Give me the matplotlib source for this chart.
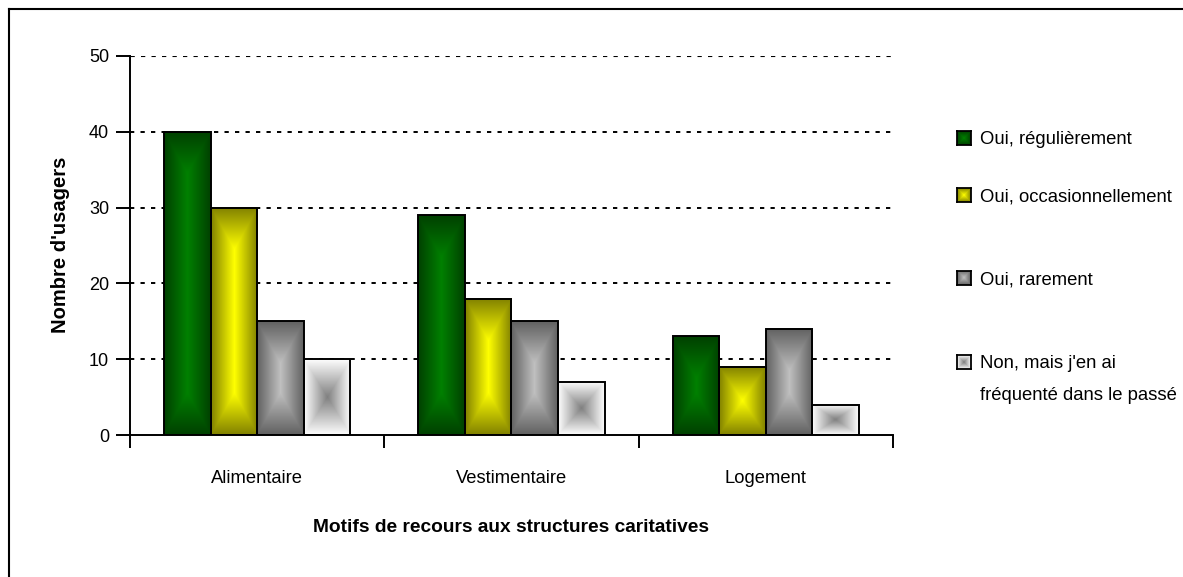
#!/usr/bin/env python3
"""Recours aux structures caritatives : barres groupées avec dégradés."""
import matplotlib
matplotlib.use("Agg")
import matplotlib.pyplot as plt
import matplotlib.colors as mcolors
import numpy as np
from matplotlib.lines import Line2D

CATEGORIES = ["Alimentaire", "Vestimentaire", "Logement"]
SERIES     = ["Oui, régulièrement", "Oui, occasionnellement", "Oui, rarement",
              "Non, mais j'en ai\nfréquenté dans le passé"]
REGULIER   = [40, 29, 13]
OCCASION   = [30, 18, 9]
RAREMENT   = [15, 15, 14]
PASSE      = [10, 7, 4]
Y_TICKS    = [0, 10, 20, 30, 40, 50]

# (centre, bord) du dégradé rectangulaire "depuis le centre"
GRADIENTS = [("#008000", "#004000"),
             ("#ffff00", "#808000"),
             ("#c0c0c0", "#606060"),
             ("#808080", "#ffffff")]

FONT = ["Liberation Sans", "DejaVu Sans"]
W, H = 1183, 577


def box_gradient(center: str, edge: str, wpx: int, hpx: int) -> np.ndarray:
    wpx, hpx = max(wpx, 2), max(hpx, 2)
    hw, hh = wpx / 2, hpx / 2
    k = min(hh, 1.8 * hw)                       # hauteur des triangles haut/bas
    xs = np.abs(np.arange(wpx) + 0.5 - hw) / hw
    ys = np.clip(np.abs(np.arange(hpx) + 0.5 - hh) - (hh - k), 0, None) / k
    dx, dy = np.meshgrid(xs, ys)
    t = np.clip(np.maximum(dx, dy), 0.0, 1.0)[..., None]
    c = np.array(mcolors.to_rgb(center))
    e = np.array(mcolors.to_rgb(edge))
    return c * (1 - t) + e * t


def main() -> None:
    plt.rcParams["font.family"] = FONT
    fig = plt.figure(figsize=(W / 100, H / 100), dpi=100)
    ax = fig.add_axes([130 / W, 1 - 435 / H, (893 - 130) / W, (435 - 56) / H])
    ax.set_xlim(-0.5, 2.5)
    ax.set_ylim(0, 50)

    x = np.arange(len(CATEGORIES))
    bw = 0.183
    offsets = (np.arange(4) - 1.5) * bw
    for i, vals in enumerate([REGULIER, OCCASION, RAREMENT, PASSE]):
        bars = ax.bar(x + offsets[i], vals, bw, facecolor="none",
                      edgecolor="black", linewidth=1.4, zorder=3)
        for rect in bars:
            x0, y0 = rect.get_x(), rect.get_y()
            x1, y1 = x0 + rect.get_width(), y0 + rect.get_height()
            (px0, py0), (px1, py1) = ax.transData.transform([(x0, y0), (x1, y1)])
            img = box_gradient(*GRADIENTS[i], int(round(px1 - px0)), int(round(py1 - py0)))
            ax.imshow(img, extent=[x0, x1, y0, y1], aspect="auto",
                      interpolation="bilinear", zorder=2)
    ax.set_xlim(-0.5, 2.5)
    ax.set_ylim(0, 50)

    # quadrillage pointillé (la ligne du haut est plus fine, mêmes tirets)
    ax.set_yticks(Y_TICKS)
    for yv in Y_TICKS[1:]:
        lw = 0.8 if yv == Y_TICKS[-1] else 1.4
        dash = (0, (2.2 * 1.4 / lw, 3.2 * 1.4 / lw))
        ax.axhline(yv, color="black", linewidth=lw, linestyle=dash, zorder=1)

    for side in ("top", "right"):
        ax.spines[side].set_visible(False)
    for side in ("left", "bottom"):
        ax.spines[side].set_linewidth(1.4)

    ax.tick_params(axis="y", direction="out", length=10, width=1.4, labelsize=13, pad=5)
    ax.set_xticks(x, CATEGORIES)
    ax.tick_params(axis="x", which="major", length=0, pad=25, labelsize=13.2)
    ax.set_xticks(np.arange(len(CATEGORIES) + 1) - 0.5, minor=True)
    ax.tick_params(axis="x", which="minor", direction="out", length=9, width=1.4)

    fig.text(511 / W, 1 - 527 / H, "Motifs de recours aux structures caritatives",
             ha="center", va="center", fontsize=13.8, fontweight="bold")
    fig.text(60 / W, 1 - 245 / H, "Nombre d'usagers", rotation=90,
             ha="center", va="center", fontsize=14.5, fontweight="bold")

    # légende à droite
    legend_y = [138, 195, 278, 362]
    sq = 14
    for (label, (c, e), yc) in zip(SERIES, GRADIENTS, legend_y):
        lax = fig.add_axes([957 / W, 1 - (yc + sq / 2) / H, sq / W, sq / H])
        lax.imshow(box_gradient(c, e, sq, sq), aspect="auto", interpolation="bilinear")
        lax.set_xticks([])
        lax.set_yticks([])
        for s in lax.spines.values():
            s.set_linewidth(1.3)
        for k, line in enumerate(label.split("\n")):
            fig.text(980 / W, 1 - (yc + 6.5 + 32 * k) / H, line,
                     ha="left", va="baseline", fontsize=13.3)

    # cadre extérieur (haut et gauche)
    fig.add_artist(Line2D([9 / W, 1], [1 - 9 / H, 1 - 9 / H], color="black", lw=1.5))
    fig.add_artist(Line2D([9 / W, 9 / W], [0, 1 - 9 / H], color="black", lw=1.5))

    fig.savefig("out.png", dpi=100)
    plt.close(fig)


if __name__ == "__main__":
    main()
